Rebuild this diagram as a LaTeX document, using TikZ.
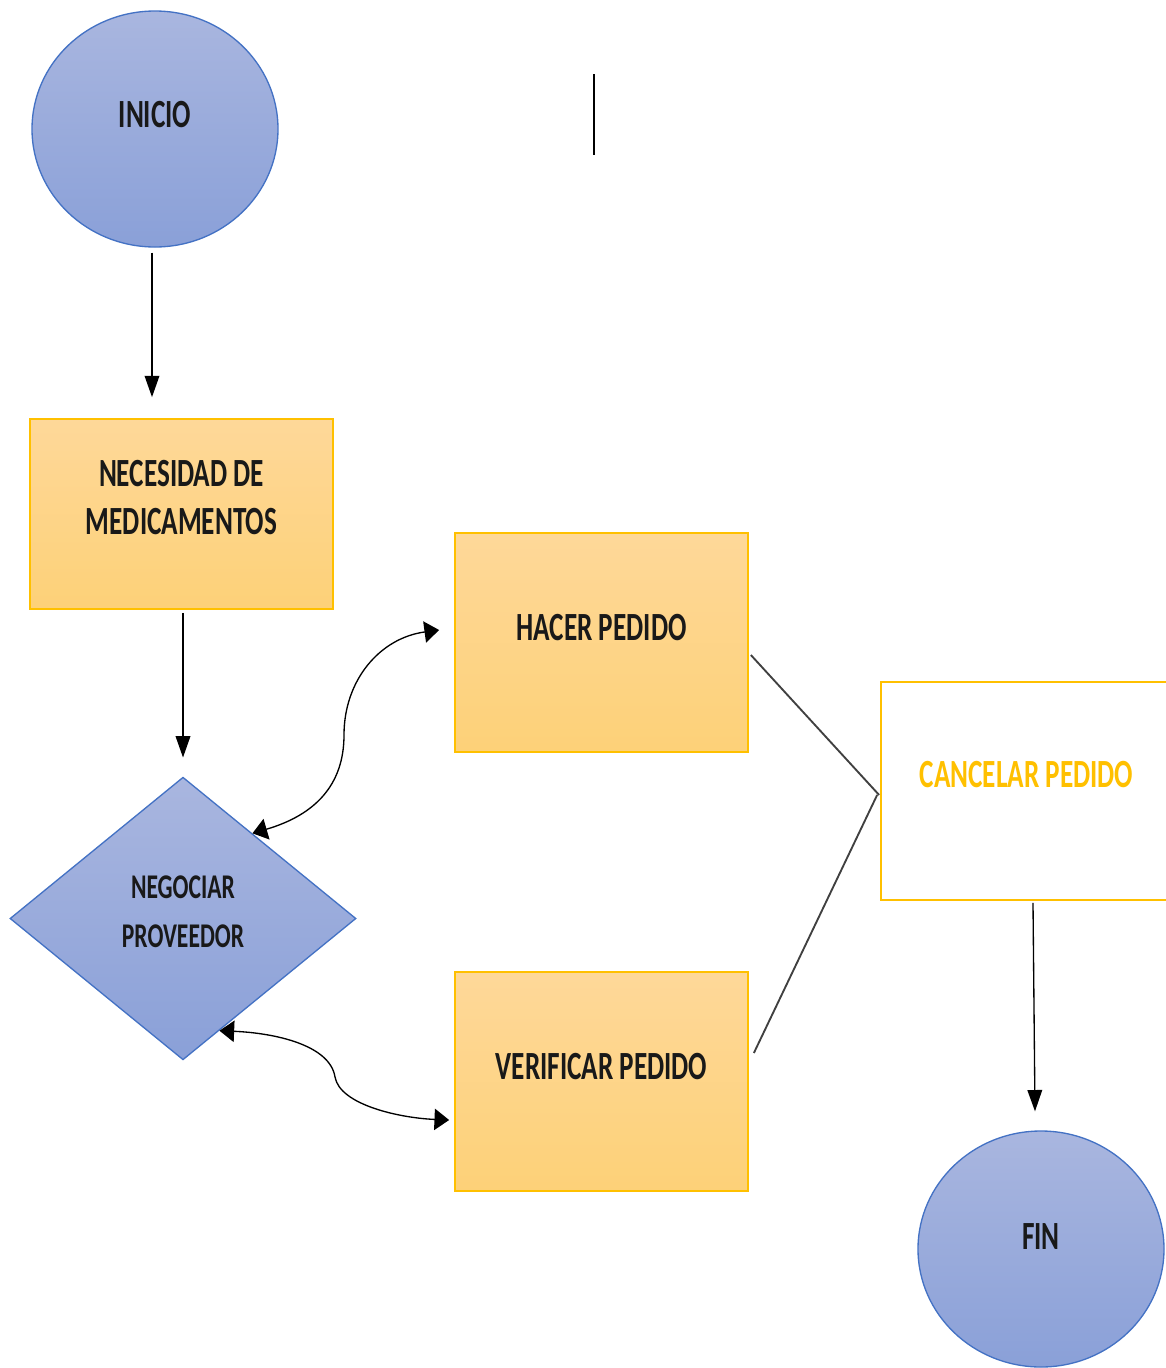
\documentclass[tikz,border=0pt]{standalone}
\usepackage{fontspec}
\newfontfamily\flowfont[FakeStretch=0.68]{Carlito}
\usetikzlibrary{shapes.geometric,arrows.meta,calc}

\definecolor{blueTop}{HTML}{A9B6DF}
\definecolor{blueBot}{HTML}{8AA0D8}
\definecolor{blueLine}{HTML}{4472C4}
\definecolor{goldTop}{HTML}{FED899}
\definecolor{goldBot}{HTML}{FDD178}
\definecolor{goldLine}{HTML}{FFC000}

\newcommand{\lift}[2]{\raisebox{#1}[0pt][0pt]{#2}}
\newcommand{\twolines}[3]{\raisebox{#1}[0pt][0pt]{\begin{tabular}[t]{@{}c@{}}#2\\#3\end{tabular}}}

\tikzset{
  flowtext/.style={font=\flowfont\bfseries\fontsize{30}{36}\selectfont, text=black!90, inner sep=0pt},
  terminal/.style={flowtext, ellipse, draw=blueLine, line width=1pt, top color=blueTop, bottom color=blueBot, minimum width=184.5pt, minimum height=177pt},
  decision/.style={flowtext, diamond, draw=blueLine, line width=1pt, top color=blueTop, bottom color=blueBot, minimum width=259.5pt, minimum height=212pt},
  process/.style={flowtext, rectangle, draw=goldLine, line width=1.3pt, top color=goldTop, bottom color=goldBot, minimum width=219.75pt, minimum height=164.25pt},
  flowarrow/.style={-{Triangle[length=16pt,width=11pt]}, line width=1pt},
  twoway/.style={{Triangle[length=11pt,width=16pt]}-{Triangle[length=11pt,width=16pt]}, line width=1pt},
  link/.style={line width=1.4pt, black!75},
}

\begin{document}
\begin{tikzpicture}[x=0.75pt,y=0.75pt,yscale=-1,xscale=1]
\useasboundingbox (0,0) rectangle (1166,1368);

%Shape: Ellipse
\node[terminal] (inicio) at (155,129) {\lift{0.8pt}{INICIO}};
%Shape: Rectangle
\node[process, minimum width=227.25pt, minimum height=142.5pt] (necesidad) at (181.5,514) {\twolines{20.7pt}{NECESIDAD DE}{MEDICAMENTOS}};
%Shape: Diamond
\node[decision, font=\flowfont\bfseries\fontsize{26}{37}\selectfont] (negociar) at (183,918.5) {\twolines{15pt}{NEGOCIAR}{PROVEEDOR}};
%Shape: Rectangle
\node[process] (hacer) at (601.5,642.5) {\lift{1.5pt}{HACER PEDIDO}};
\node[process] (verificar) at (601.5,1081.5) {\lift{1.5pt}{VERIFICAR PEDIDO}};
\node[process, top color=white, bottom color=white, text=goldLine, minimum width=218.25pt, minimum height=163.5pt] (cancelar) at (1026.5,791) {\lift{2.3pt}{CANCELAR PEDIDO}};
%Shape: Ellipse
\node[terminal] (fin) at (1041,1249) {\lift{-0.7pt}{FIN}};

%Straight Lines
\draw[flowarrow] ($(inicio.south)+(-3,5)$) -- ($(necesidad.north)+(-29.5,-21)$);
\draw[flowarrow] ($(necesidad.south)+(1.5,3)$) -- ($(negociar.north)+(0,-19)$);
\draw[flowarrow] ($(cancelar.south)+(6.5,2)$) -- ($(fin.north)+(-6,-19)$);
\draw[link] ($(hacer.east)+(2,12.5)$) -- ($(cancelar.west)+(-1,4)$);
\draw[link] ($(verificar.east)+(5,-28.5)$) -- ($(cancelar.west)+(-3,4)$);

%Curve Lines
\coordinate (upbend) at (344,735);
\coordinate (lowbend) at (335,1077);
\draw[twoway] ($(negociar.north)!0.4!(negociar.east)$) .. controls (315,815) and (344,785) .. (upbend) .. controls (344,680) and (380,638) .. ($(hacer.west)+(-15,-12.5)$);
\draw[twoway] ($(negociar.south)!0.21!(negociar.east)$) .. controls (275,1033) and (330,1045) .. (lowbend) .. controls (340,1105) and (400,1118) .. ($(verificar.west)+(-5,38.5)$);

%Straight Lines
\coordinate (ticktop) at (594,74);
\coordinate (tickbot) at (594,155);
\draw[line width=1.4pt] (ticktop) -- (tickbot);
\end{tikzpicture}
\end{document}
